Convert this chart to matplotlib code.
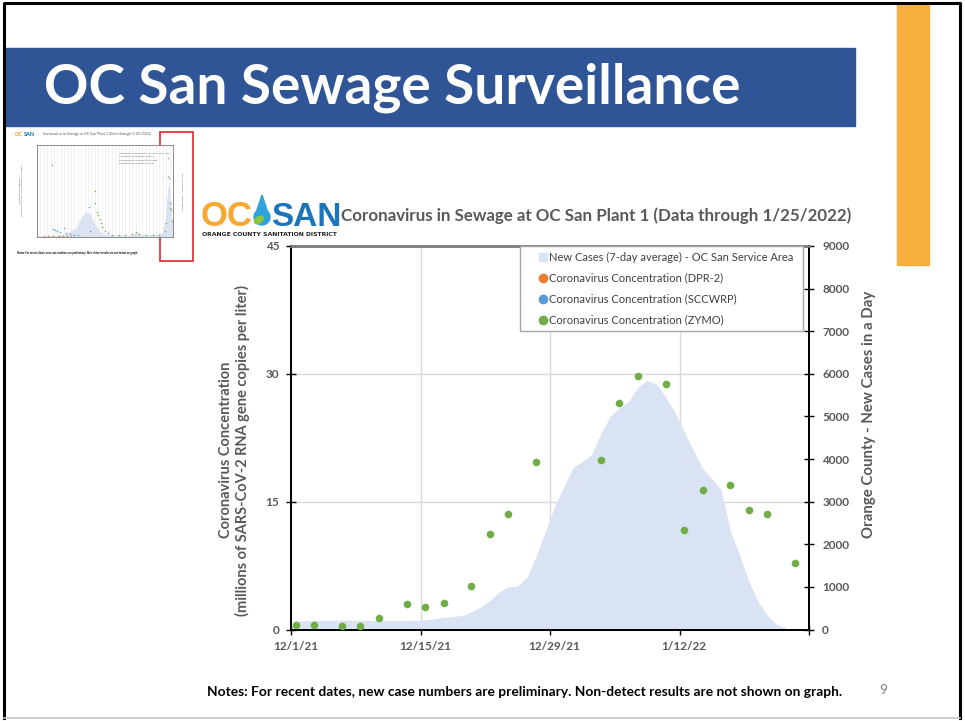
import numpy as np
import matplotlib.pyplot as plt
import matplotlib.dates as mdates
from matplotlib.patches import Rectangle, Polygon, Ellipse
from matplotlib.lines import Line2D
from matplotlib.ticker import FixedLocator, FuncFormatter

plt.rcParams['font.family'] = ['Lato', 'DejaVu Sans']

# ZYMO concentration samples (millions of gene copies per liter)
sample_dates = ['2021-12-01', '2021-12-03', '2021-12-06', '2021-12-08', '2021-12-10',
                '2021-12-13', '2021-12-15', '2021-12-17', '2021-12-20', '2021-12-22',
                '2021-12-24', '2021-12-27', '2021-12-29', '2022-01-03', '2022-01-05',
                '2022-01-07', '2022-01-10', '2022-01-12', '2022-01-14', '2022-01-17',
                '2022-01-19', '2022-01-21', '2022-01-24']
zymo_conc = [0.55, 0.55, 0.45, 0.4, 1.3, 3.0, 2.6, 3.1, 5.1, 11.2, 13.5, 19.6, 38.5,
             19.9, 26.6, 29.8, 28.8, 11.7, 16.4, 16.9, 14.0, 13.6, 7.8]

# new cases, 7-day average, daily from 12/1/21
cases_start = '2021-12-01'
new_cases_7day = [196, 210, 220, 220, 220, 220, 215, 215, 215, 210, 210, 210, 210, 215,
                  230, 255, 285, 305, 330, 420, 530, 680, 880, 1000, 1020, 1230, 1720,
                  2300, 2900, 3360, 3800, 3950, 4100, 4600, 5000, 5200, 5350, 5680, 5850,
                  5760, 5460, 5100, 4650, 4200, 3780, 3530, 3290, 2300, 1750, 1120, 650,
                  330, 120, 40]

conc_ticks = [0, 15, 30, 45]
case_ticks = [0, 1000, 2000, 3000, 4000, 5000, 6000, 7000, 8000, 9000]
date_labels = ['2021-12-01', '2021-12-15', '2021-12-29', '2022-01-12']
x_first, x_last = '2021-12-01', '2022-01-25'

# thumbnail (whole history, x as fraction of time span)
thumb_case_x = [0, 10, 20, 28, 33, 36, 39, 42, 46, 50, 60, 70, 73, 76, 85, 92, 94, 96, 97, 98, 99, 100]
thumb_case_y = [100, 150, 300, 800, 2000, 2500, 2300, 1400, 600, 300, 200, 200, 500, 250, 250, 400, 1500, 4500, 5400, 4000, 2000, 1200]
thumb_blue_x = [11, 12, 13, 15, 17, 20, 21, 24, 27, 30, 38, 39]
thumb_blue_y = [35, 4, 3.5, 3, 2.5, 4.4, 2, 1.5, 1, 0.8, 14.5, 3]
thumb_orange_x = [5, 8, 12, 16, 19, 22, 25]
thumb_orange_y = [0.5, 0.6, 0.5, 0.7, 0.5, 0.6, 0.5]
thumb_green_x = [43, 43, 44, 45, 46, 47, 48, 50, 52, 55, 60, 65, 70, 73, 75, 80, 85, 90,
                 94, 95, 96, 96.5, 97, 97.5, 98, 98.5, 99]
thumb_green_y = [22.5, 16.5, 12, 11, 9, 7, 5, 3, 2, 1, 1, 1, 1.5, 2.5, 1.5, 1, 1, 1,
                 3, 7, 38.5, 30, 29, 16.5, 14, 13, 8]

GRAY = '#595959'
fig = plt.figure(figsize=(9.65, 7.21), dpi=100)

# slide background layer in pixel coordinates
bg = fig.add_axes([0, 0, 1, 1])
bg.set_xlim(0, 965)
bg.set_ylim(721, 0)
bg.axis('off')
bg.plot([4, 4, 960, 960], [718, 3, 3, 718], color='black', lw=2.2)
bg.plot([4, 960], [718, 718], color='#C8C8C8', lw=1.2)
bg.add_patch(Rectangle((6, 48), 849, 78, color='#2F5597'))
bg.add_patch(Rectangle((897, 5), 32, 260, color='#F9AE40'))
bg.text(44, 88, 'OC San Sewage Surveillance', color='white', fontsize=39.6,
        fontweight='bold', va='center', ha='left')

# logo
bg.text(201, 226, 'OC', color='#F7A833', fontsize=25, fontweight='bold',
        family=['Liberation Sans'], va='baseline', ha='left')
bg.text(271, 226, 'SAN', color='#1B75BB', fontsize=24, fontweight='bold',
        family=['Liberation Sans'], va='baseline', ha='left')
drop = [(262 + 8 * np.sin(a), 217 + 8 * np.cos(a)) for a in np.linspace(-2.4, 2.4, 40)]
drop = [(262, 195)] + drop
bg.add_patch(Polygon(drop, closed=True, color='#2EA3DC'))
bg.add_patch(Ellipse((259, 220), 10, 6, angle=-35, color='#8DC63F'))
bg.text(202, 234, 'ORANGE COUNTY SANITATION DISTRICT', fontsize=4.4, fontweight='bold',
        family=['DejaVu Sans'], va='center', ha='left', color='#222222')
bg.text(341, 216, 'Coronavirus in Sewage at OC San Plant 1 (Data through 1/25/2022)',
        color=GRAY, fontsize=12.2, fontweight='bold', va='center', ha='left')

bg.text(525, 692, 'Notes: For recent dates, new case numbers are preliminary. '
        'Non-detect results are not shown on graph.', fontsize=9.9, fontweight='bold',
        ha='center', va='center', color='black')
bg.text(883, 690, '9', fontsize=10, color='#808080', ha='center', va='center')

# thumbnail of the full history
bg.text(15, 134, 'OC', color='#F7A833', fontsize=4, fontweight='black', va='center')
bg.text(24, 134, 'SAN', color='#1B75BB', fontsize=4, fontweight='black', va='center')
bg.text(43, 134, 'Coronavirus in Sewage at OC San Plant 1 (Data through 1/25/2022)',
        fontsize=2.6, color=GRAY, va='center')
bg.text(17, 253, 'Notes: For recent dates, new case numbers are preliminary. '
        'Non-detect results are not shown on graph.', fontsize=1.9, fontweight='bold', va='center')
th = fig.add_axes([37 / 965, 1 - 237 / 721, 136 / 965, 92 / 721])
th.fill_between(thumb_case_x, thumb_case_y, color='#DAE3F3', lw=0)
th.set_xlim(0, 100)
th.set_ylim(0, 9000)
th.set_xticks(np.arange(0, 101, 2.5))
th.grid(axis='x', color='#E6E6E6', lw=0.4)
th.tick_params(length=0)
th.set_xticklabels([])
th.set_yticklabels([])
th2 = th.twinx()
th2.set_ylim(0, 45)
th2.scatter(thumb_orange_x, thumb_orange_y, s=1.2, color='#ED7D31', lw=0)
th2.scatter(thumb_blue_x, thumb_blue_y, s=1.2, color='#5B9BD5', lw=0)
th2.scatter(thumb_green_x, thumb_green_y, s=1.2, color='#70AD47', lw=0)
th2.set_yticks([])
for a in (th, th2):
    for s in a.spines.values():
        s.set_linewidth(0.4)
        s.set_color('#777777')
th2.text(0.6, 0.92, 'New Cases (7-day average) - OC San Service Area\n'
         'Coronavirus Concentration (DPR-2)\nCoronavirus Concentration (SCCWRP)\n'
         'Coronavirus Concentration (ZYMO)', transform=th2.transAxes, fontsize=1.6,
         color=GRAY, va='top', linespacing=2)
bg.text(21, 191, 'Coronavirus Concentration\n(millions of SARS-CoV-2 RNA gene copies per liter)',
        fontsize=1.6, rotation=90, ha='center', va='center', color=GRAY)
bg.text(183, 191, 'Orange County - New Cases in a Day', fontsize=1.6, rotation=90,
        ha='center', va='center', color=GRAY)
bg.add_patch(Rectangle((160, 132), 33, 129, fill=False, edgecolor='#E32526', lw=1.2))

# main chart: cases axis underneath, concentration axis on top
ax = fig.add_axes([291 / 965, 1 - 629.5 / 721, 518 / 965, 383.5 / 721])
ax2 = ax.twinx()
cases_dates = np.arange(np.datetime64(cases_start), np.datetime64(cases_start) + len(new_cases_7day))
cases_x = mdates.date2num(cases_dates)
ax.fill_between(cases_x, new_cases_7day, color='#DAE3F3', lw=0, zorder=2)
x0 = mdates.date2num(np.datetime64(x_first)) - 0.5
x1 = mdates.date2num(np.datetime64(x_last)) + 0.5
ax.set_xlim(x0, x1)
ax.set_ylim(case_ticks[0], case_ticks[-1])
for v in conc_ticks[1:-1]:
    ax.axhline(v * case_ticks[-1] / conc_ticks[-1], color='#D9D9D9', lw=1, zorder=0)
label_x = mdates.date2num(np.array(date_labels, dtype='datetime64[D]'))
bounds = np.append(label_x - 0.5, x1)
ax.xaxis.set_major_locator(FixedLocator(label_x))
ax.xaxis.set_minor_locator(FixedLocator(bounds))
ax.xaxis.set_major_formatter(FuncFormatter(
    lambda v, p: '{d.month}/{d.day}/{y}'.format(d=mdates.num2date(v), y=mdates.num2date(v).year % 100)))
ax.grid(axis='x', which='minor', color='#D9D9D9', lw=1, zorder=0)
ax.tick_params(axis='x', which='major', length=0, pad=8, labelsize=8.5, labelcolor=GRAY)
ax.tick_params(axis='x', which='minor', direction='inout', length=7, width=1)
for lab in ax.get_xticklabels():
    lab.set_fontweight('bold')
ax.yaxis.tick_right()
ax.yaxis.set_label_position('right')
ax.set_yticks(case_ticks)
ax.tick_params(axis='y', direction='inout', length=7, width=1, pad=6,
               labelsize=8.5, labelcolor=GRAY)
for lab in ax.get_yticklabels():
    lab.set_fontweight('bold')
ax.set_ylabel('Orange County - New Cases in a Day', fontsize=10.8, fontweight='bold',
              color=GRAY)
ax.yaxis.set_label_coords(1.102, 0.562)

ax2.scatter(mdates.date2num(np.array(sample_dates, dtype='datetime64[D]')), zymo_conc,
            s=30, color='#70AD47', lw=0, zorder=3)
ax2.set_ylim(conc_ticks[0], conc_ticks[-1])
ax2.yaxis.tick_left()
ax2.yaxis.set_label_position('left')
ax2.set_yticks(conc_ticks)
ax2.tick_params(axis='y', direction='inout', length=7, width=1, pad=5,
                labelsize=8.5, labelcolor=GRAY)
for lab in ax2.get_yticklabels():
    lab.set_fontweight('bold')
ax2.set_ylabel('Coronavirus Concentration\n(millions of SARS-CoV-2 RNA gene copies per liter)',
               fontsize=10.5, fontweight='bold', color=GRAY)
ax2.yaxis.set_label_coords(-0.079, 0.468)
for a in (ax, ax2):
    for name, s in a.spines.items():
        s.set_color('black')
        s.set_linewidth(1.3)
    a.spines['top'].set_color('#7F7F7F')
    a.spines['top'].set_linewidth(1.8)

handles = [Line2D([], [], ls='none', marker='s', ms=6, color='#DAE3F3'),
           Line2D([], [], ls='none', marker='o', ms=6, color='#ED7D31'),
           Line2D([], [], ls='none', marker='o', ms=6, color='#5B9BD5'),
           Line2D([], [], ls='none', marker='o', ms=6, color='#70AD47')]
labels = ['New Cases (7-day average) - OC San Service Area',
          'Coronavirus Concentration (DPR-2)',
          'Coronavirus Concentration (SCCWRP)',
          'Coronavirus Concentration (ZYMO)']
leg = ax2.legend(handles, labels, loc='upper left', bbox_to_anchor=(0.442, 1.0, 0.546, 0),
                 mode='expand', fontsize=8, fancybox=False, framealpha=1, edgecolor='#A6A6A6',
                 labelspacing=0.9, handlelength=3.1, handletextpad=-0.95, borderpad=0.5,
                 borderaxespad=0)
for txt in leg.get_texts():
    txt.set_color('#404040')
leg.get_frame().set_linewidth(1)

fig.savefig('out.png', dpi=100)
